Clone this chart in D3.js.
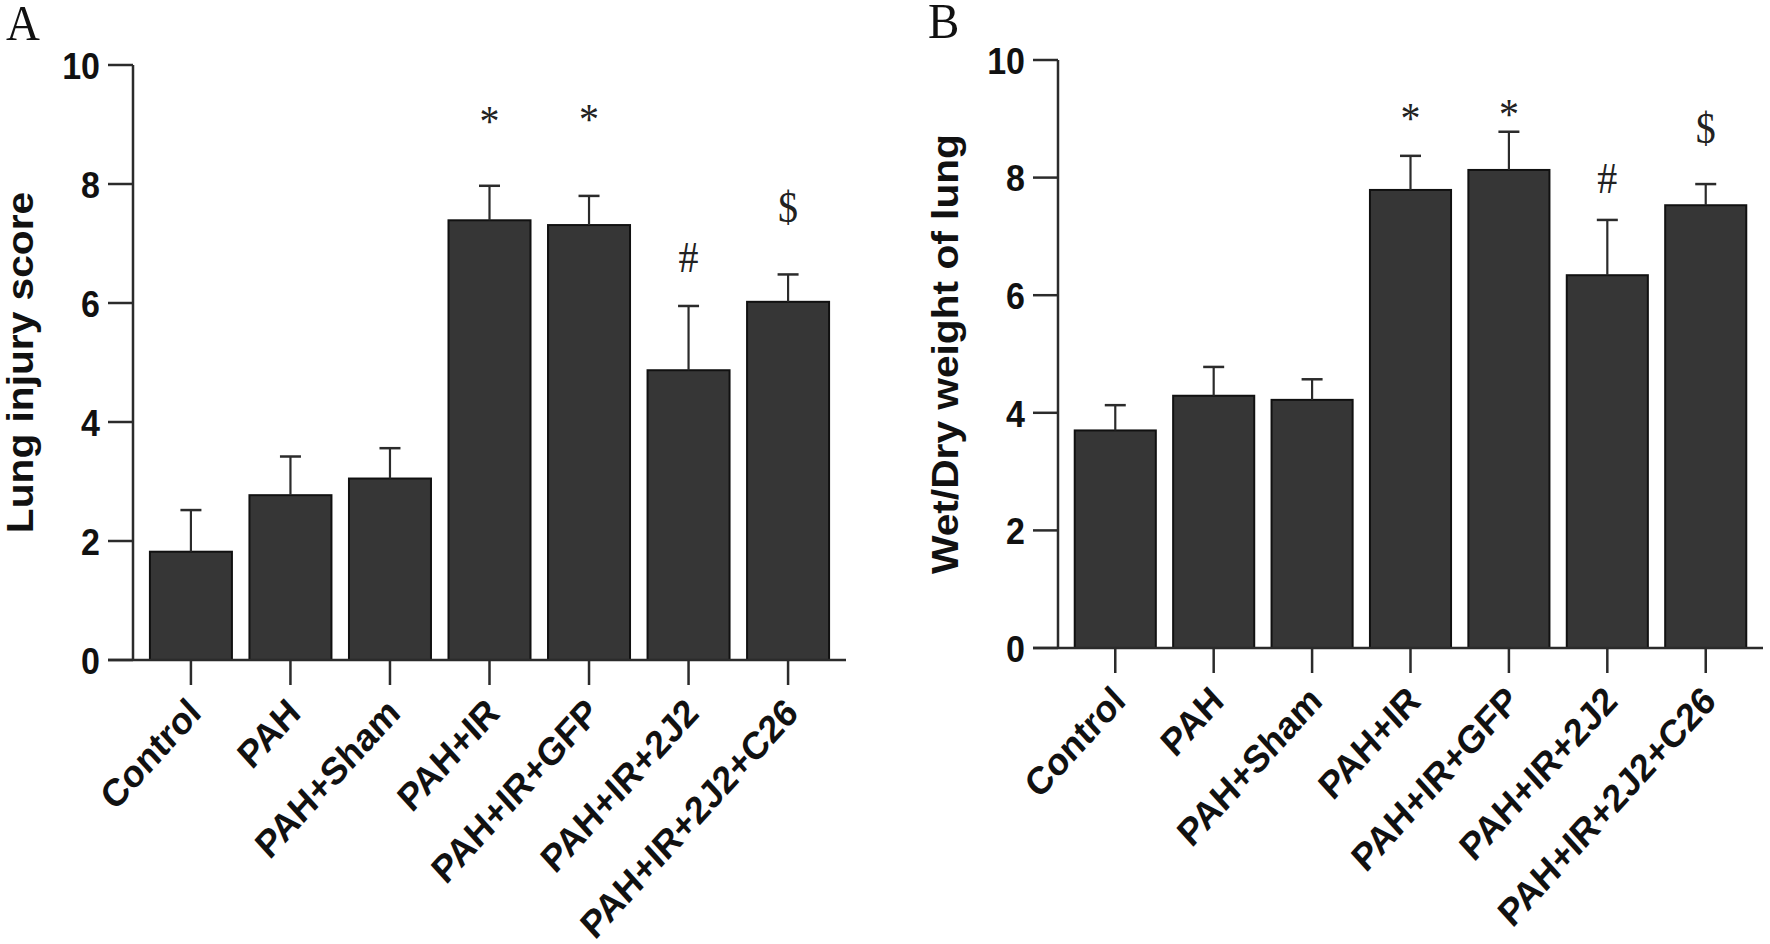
<!DOCTYPE html>
<html>
<head>
<meta charset="utf-8">
<script src="https://cdn.jsdelivr.net/npm/d3@7"></script>
<style>
  body { margin: 0; background: #fff; }
  svg { display: block; }
</style>
</head>
<body>
<svg id="chart" width="1770" height="944"></svg>
<script>
// groups shared by both panels
var groups = [ "Control", "PAH", "PAH+Sham", "PAH+IR", "PAH+IR+GFP", "PAH+IR+2J2", "PAH+IR+2J2+C26" ];
var yTicks = [ 0, 2, 4, 6, 8, 10 ];

// panel A: lung injury score (mean, error)
var injuryMean = [ 1.82, 2.77, 3.05, 7.39, 7.31, 4.87, 6.02 ];
var injuryErr  = [ 0.70, 0.65, 0.51, 0.58, 0.49, 1.08, 0.46 ];
var injuryMark = [ "", "", "", "*", "*", "#", "$" ];
var injuryMarkAt = [ 0, 0, 0, 9.16, 9.19, 6.77, 7.61 ];

// panel B: wet/dry weight of lung
var wetMean = [ 3.70, 4.29, 4.22, 7.79, 8.13, 6.34, 7.53 ];
var wetErr  = [ 0.43, 0.49, 0.35, 0.58, 0.65, 0.94, 0.36 ];
var wetMark = [ "", "", "", "*", "*", "#", "$" ];
var wetMarkAt = [ 0, 0, 0, 9.12, 9.18, 7.99, 8.84 ];

var svg = d3.select( "#chart" );
var SY = 1.1; // the figure looks stretched vertically a little
var sans = "'Liberation Sans', Arial, sans-serif";
var serif = "'Liberation Serif', 'Times New Roman', serif";
var ink = "#2b2b2b";

function panel( opt ) {
    var x = d3.scaleBand()
        .domain( groups )
        .range( [ opt.left, opt.right ] )
        .paddingInner( 0.176 )
        .paddingOuter( 0.17 );
    var y = d3.scaleLinear()
        .domain( [ 0, 10 ] )
        .range( [ opt.bottom, opt.top ] );
    var mid = function( d ) { return x( d ) + x.bandwidth() / 2; };

    var g = svg.append( "g" );

    // bars
    g.selectAll( ".bar" )
        .data( opt.mean )
        .enter().append( "rect" )
        .attr( "x", function( d, i ) { return x( groups[ i ] ); } )
        .attr( "y", function( d ) { return y( d ); } )
        .attr( "width", x.bandwidth() )
        .attr( "height", function( d ) { return y( 0 ) - y( d ); } )
        .attr( "fill", "#363636" )
        .attr( "stroke", "#111" )
        .attr( "stroke-width", 2 );

    // error bars (upper only)
    var err = g.selectAll( ".err" )
        .data( opt.mean )
        .enter().append( "g" );
    err.append( "line" )
        .attr( "x1", function( d, i ) { return mid( groups[ i ] ); } )
        .attr( "x2", function( d, i ) { return mid( groups[ i ] ); } )
        .attr( "y1", function( d ) { return y( d ); } )
        .attr( "y2", function( d, i ) { return y( d + opt.err[ i ] ); } )
        .attr( "stroke", ink )
        .attr( "stroke-width", 2.2 );
    err.append( "line" )
        .attr( "x1", function( d, i ) { return mid( groups[ i ] ) - 10.5; } )
        .attr( "x2", function( d, i ) { return mid( groups[ i ] ) + 10.5; } )
        .attr( "y1", function( d, i ) { return y( d + opt.err[ i ] ); } )
        .attr( "y2", function( d, i ) { return y( d + opt.err[ i ] ); } )
        .attr( "stroke", ink )
        .attr( "stroke-width", 2.5 );

    // significance marks
    var lift = { "*": 0.48, "#": 0.34, "$": 0.33 };
    opt.mark.forEach( function( m, i ) {
        if ( !m ) return;
        var cx = mid( groups[ i ] );
        var cy = y( opt.markAt[ i ] ) + lift[ m ] * 40 * SY;
        g.append( "text" )
            .attr( "transform", "translate(" + cx + "," + cy + ") scale(1," + SY + ")" )
            .attr( "text-anchor", "middle" )
            .style( "font-family", serif )
            .style( "font-size", "40px" )
            .attr( "fill", "#222" )
            .text( m );
    } );

    // y axis
    g.append( "line" )
        .attr( "x1", opt.left ).attr( "x2", opt.left )
        .attr( "y1", y( 10 ) ).attr( "y2", y( 0 ) )
        .attr( "stroke", ink ).attr( "stroke-width", 2.5 );
    g.selectAll( ".ytick" )
        .data( yTicks )
        .enter().append( "line" )
        .attr( "x1", opt.left - 25 ).attr( "x2", opt.left )
        .attr( "y1", function( d ) { return y( d ); } )
        .attr( "y2", function( d ) { return y( d ); } )
        .attr( "stroke", ink ).attr( "stroke-width", 2.5 );
    g.selectAll( ".ylab" )
        .data( yTicks )
        .enter().append( "text" )
        .attr( "transform", function( d ) {
            return "translate(" + ( opt.left - 33 ) + "," + ( y( d ) + 12.5 * SY ) + ") scale(1," + SY + ")";
        } )
        .attr( "text-anchor", "end" )
        .style( "font-family", sans )
        .style( "font-weight", "bold" )
        .style( "font-size", "34px" )
        .attr( "fill", "#111" )
        .text( function( d ) { return d; } );

    // x axis
    g.append( "line" )
        .attr( "x1", opt.left - 25 ).attr( "x2", opt.right )
        .attr( "y1", y( 0 ) ).attr( "y2", y( 0 ) )
        .attr( "stroke", ink ).attr( "stroke-width", 2.5 );
    g.selectAll( ".xtick" )
        .data( groups )
        .enter().append( "line" )
        .attr( "x1", mid )
        .attr( "x2", mid )
        .attr( "y1", y( 0 ) ).attr( "y2", y( 0 ) + 25 )
        .attr( "stroke", ink ).attr( "stroke-width", 2.5 );
    g.selectAll( ".xlab" )
        .data( groups )
        .enter().append( "text" )
        .attr( "transform", function( d ) {
            return "translate(" + ( mid( d ) + 12 ) + "," + ( y( 0 ) + 55 ) + ") scale(1," + SY + ") rotate(-45)";
        } )
        .attr( "text-anchor", "end" )
        .style( "font-family", sans )
        .style( "font-weight", "bold" )
        .style( "font-size", "35px" )
        .attr( "fill", "#111" )
        .text( function( d ) { return d; } );

    // axis title
    g.append( "text" )
        .attr( "transform", "translate(" + opt.titleX + "," + ( ( y( 0 ) + y( 10 ) ) / 2 ) + ") scale(1," + SY + ") rotate(-90)" )
        .attr( "text-anchor", "middle" )
        .style( "font-family", sans )
        .style( "font-weight", "bold" )
        .style( "font-size", "37px" )
        .attr( "fill", "#111" )
        .text( opt.title );

    // panel letter
    g.append( "text" )
        .attr( "transform", "translate(" + opt.letterX + "," + opt.letterY + ") scale(1," + SY + ")" )
        .style( "font-family", serif )
        .style( "font-size", "47px" )
        .attr( "fill", "#111" )
        .text( opt.letter );
}

panel( {
    left: 133, right: 846, top: 65, bottom: 660,
    mean: injuryMean, err: injuryErr, mark: injuryMark, markAt: injuryMarkAt,
    title: "Lung injury score", titleX: 33,
    letter: "A", letterX: 6, letterY: 40
} );

panel( {
    left: 1058, right: 1763, top: 60, bottom: 648,
    mean: wetMean, err: wetErr, mark: wetMark, markAt: wetMarkAt,
    title: "Wet/Dry weight of lung", titleX: 958,
    letter: "B", letterX: 928, letterY: 38
} );
</script>
</body>
</html>
